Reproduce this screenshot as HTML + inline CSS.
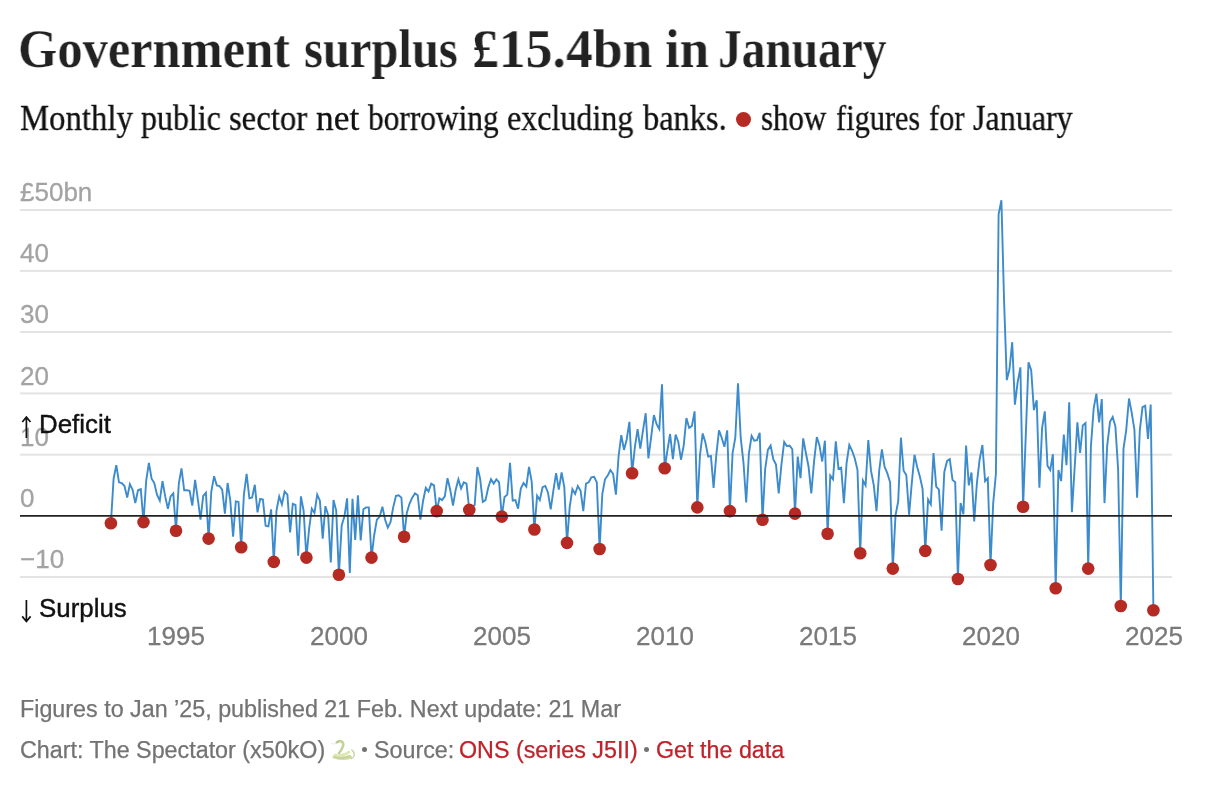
<!DOCTYPE html>
<html><head><meta charset="utf-8"><title>Government surplus</title>
<style>
html,body{margin:0;padding:0;background:#fff;}
body{width:1214px;height:792px;position:relative;overflow:hidden;font-family:"Liberation Sans",sans-serif;}
.abs{position:absolute;white-space:nowrap;}
h1{margin:0;font-size:56px;font-weight:bold;}
.tw{position:absolute;top:16.6px;font-family:"Liberation Serif",serif;font-weight:bold;font-size:54.5px;line-height:64px;color:#222;-webkit-text-stroke:0.25px #fff;white-space:nowrap;transform-origin:0 0;will-change:transform;}
.sw{position:absolute;top:98px;font-family:"Liberation Serif",serif;font-size:35px;line-height:42px;color:#111;-webkit-text-stroke:0.3px #111;white-space:nowrap;transform-origin:0 0;will-change:transform;}
svg{position:absolute;left:0;top:0;}
.yl{position:absolute;left:19.8px;font-size:26px;line-height:30px;color:#a3a3a3;-webkit-text-stroke:0.3px #a3a3a3;white-space:nowrap;will-change:transform;}
.xl{position:absolute;top:621px;width:80px;text-align:center;font-size:26px;line-height:30px;color:#7a7a7a;-webkit-text-stroke:0.3px #7a7a7a;white-space:nowrap;will-change:transform;}
.ann{position:absolute;left:39.3px;font-size:25.9px;line-height:30px;color:#111;-webkit-text-stroke:0.4px #111;white-space:nowrap;will-change:transform;}
.ft{position:absolute;left:20px;font-size:23.3px;line-height:28px;color:#737373;-webkit-text-stroke:0.25px #737373;white-space:nowrap;will-change:transform;}
.bl{position:absolute;top:746.6px;width:5.4px;height:5.4px;border-radius:50%;background:#737373;}
.ft b{font-weight:normal;color:#c0222a;-webkit-text-stroke:0.25px #c0222a;}
</style></head><body>
<h1><span class="tw" style="left:18.45px;transform:scaleX(0.9262)">Government</span><span class="tw" style="left:304.44px;transform:scaleX(0.8903)">surplus</span><span class="tw" style="left:471.79px;transform:scaleX(0.9842)">£15.4bn</span><span class="tw" style="left:664.99px;transform:scaleX(0.9665)">in</span><span class="tw" style="left:718.13px;transform:scaleX(0.8692)">January</span></h1>
<div><span class="sw" style="left:19.86px;transform:scaleX(0.9372)">Monthly</span><span class="sw" style="left:141.24px;transform:scaleX(0.9116)">public</span><span class="sw" style="left:228.60px;transform:scaleX(0.9346)">sector</span><span class="sw" style="left:315.54px;transform:scaleX(1.0108)">net</span><span class="sw" style="left:368.10px;transform:scaleX(0.8964)">borrowing</span><span class="sw" style="left:507.06px;transform:scaleX(0.9154)">excluding</span><span class="sw" style="left:642.60px;transform:scaleX(0.9250)">banks.</span><span class="sw" style="left:760.87px;transform:scaleX(0.8844)">show</span><span class="sw" style="left:836.13px;transform:scaleX(0.8663)">figures</span><span class="sw" style="left:929.33px;transform:scaleX(0.8684)">for</span><span class="sw" style="left:973.01px;transform:scaleX(0.9157)">January</span></div>
<div style="position:absolute;left:735.75px;top:111.65px;width:15.5px;height:15.5px;border-radius:50%;background:#b52b24"></div>
<div class="yl" style="top:176.9px">£50bn</div><div class="yl" style="top:238.1px">40</div><div class="yl" style="top:299.3px">30</div><div class="yl" style="top:360.5px">20</div><div class="yl" style="top:421.7px">10</div><div class="yl" style="top:482.9px">0</div><div class="yl" style="top:544.1px">−10</div>
<svg width="1214" height="792" viewBox="0 0 1214 792">
<g fill="#e4e4e4"><rect x="20" width="1152" y="209.0" height="2"/><rect x="20" width="1152" y="269.9" height="2"/><rect x="20" width="1152" y="331.0" height="2"/><rect x="20" width="1152" y="392.4" height="2"/><rect x="20" width="1152" y="453.7" height="2"/><rect x="20" width="1152" y="576.0" height="2"/></g>
<polyline fill="none" stroke="#3b8bcd" stroke-width="1.9" stroke-linejoin="miter" points="110.9,523.3 113.6,478.7 116.3,465.2 119.0,482.3 121.8,483.0 124.5,486.0 127.2,497.6 129.9,484.2 132.6,489.7 135.3,503.1 138.0,490.3 140.8,489.1 143.5,522.1 146.2,480.5 148.9,462.8 151.6,478.7 154.3,483.0 157.0,494.6 159.8,500.7 162.5,481.1 165.2,496.4 167.9,508.7 170.6,496.4 173.3,493.4 176.0,530.7 178.8,483.6 181.5,468.3 184.2,490.3 186.9,490.3 189.6,490.9 192.3,505.6 195.1,479.9 197.8,498.9 200.5,519.7 203.2,495.8 205.9,492.7 208.6,538.6 211.3,491.5 214.1,476.2 216.8,485.4 219.5,486.0 222.2,489.7 224.9,513.6 227.6,483.0 230.3,500.7 233.1,536.8 235.8,501.3 238.5,501.9 241.2,547.2 243.9,494.6 246.6,473.8 249.4,498.3 252.1,497.6 254.8,484.8 257.5,512.3 260.2,498.9 262.9,499.5 265.6,525.8 268.4,526.4 271.1,509.3 273.8,561.9 276.5,510.5 279.2,496.4 281.9,504.4 284.6,491.5 287.4,494.6 290.1,532.5 292.8,503.8 295.5,505.0 298.2,555.8 300.9,496.4 303.6,510.5 306.4,557.6 309.1,528.9 311.8,508.7 314.5,512.9 317.2,494.6 319.9,500.7 322.7,538.6 325.4,506.2 328.1,514.8 330.8,562.5 333.5,500.1 336.2,510.5 338.9,574.8 341.7,525.2 344.4,516.6 347.1,498.3 349.8,572.9 352.5,498.9 355.2,539.9 357.9,495.2 360.7,540.5 363.4,509.3 366.1,507.4 368.8,507.4 371.5,557.6 374.2,535.0 376.9,519.7 379.7,516.6 382.4,506.8 385.1,519.7 387.8,527.6 390.5,522.1 393.2,507.4 396.0,495.8 398.7,495.2 401.4,497.6 404.1,536.8 406.8,512.9 409.5,503.8 412.2,497.6 415.0,493.4 417.7,495.2 420.4,519.7 423.1,500.7 425.8,487.8 428.5,491.5 431.2,483.6 434.0,485.4 436.7,511.1 439.4,498.3 442.1,500.1 444.8,496.4 447.5,478.1 450.2,489.7 453.0,505.6 455.7,489.7 458.4,479.3 461.1,488.5 463.8,482.3 466.5,483.6 469.3,509.9 472.0,506.8 474.7,505.0 477.4,467.0 480.1,478.7 482.8,501.9 485.5,500.1 488.3,487.2 491.0,479.3 493.7,483.6 496.4,479.3 499.1,482.3 501.8,516.6 504.5,497.0 507.3,494.6 510.0,462.8 512.7,500.7 515.4,500.1 518.1,508.7 520.8,488.5 523.5,483.0 526.3,486.6 529.0,467.0 531.7,481.7 534.4,529.5 537.1,495.8 539.8,500.1 542.6,487.2 545.3,486.0 548.0,492.7 550.7,509.3 553.4,490.3 556.1,473.2 558.8,489.7 561.6,472.5 564.3,487.2 567.0,542.9 569.7,506.8 572.4,489.1 575.1,494.0 577.8,486.0 580.6,490.9 583.3,511.1 586.0,483.6 588.7,482.3 591.4,477.4 594.1,476.8 596.8,482.3 599.6,549.0 602.3,494.0 605.0,479.3 607.7,475.6 610.4,470.1 613.1,473.8 615.9,494.6 618.6,456.0 621.3,435.2 624.0,449.9 626.7,439.5 629.4,421.8 632.1,473.2 634.9,446.8 637.6,429.1 640.3,448.7 643.0,430.3 645.7,413.2 648.4,458.5 651.1,437.7 653.9,415.0 656.6,424.2 659.3,429.1 662.0,384.4 664.7,468.3 667.4,450.5 670.1,434.0 672.9,459.1 675.6,434.6 678.3,441.9 681.0,459.7 683.7,445.6 686.4,418.1 689.2,427.9 691.9,426.0 694.6,411.3 697.3,507.4 700.0,454.8 702.7,433.4 705.4,442.6 708.2,456.6 710.9,456.0 713.6,487.8 716.3,454.8 719.0,430.3 721.7,437.7 724.4,446.8 727.2,430.3 729.9,511.1 732.6,453.0 735.3,437.7 738.0,383.2 740.7,437.7 743.5,462.8 746.2,502.5 748.9,453.6 751.6,435.8 754.3,440.7 757.0,440.1 759.7,432.8 762.5,519.7 765.2,468.9 767.9,449.9 770.6,445.6 773.3,459.1 776.0,464.6 778.7,493.4 781.5,464.0 784.2,441.9 786.9,446.2 789.6,445.6 792.3,449.3 795.0,513.6 797.7,456.6 800.5,478.1 803.2,438.3 805.9,453.0 808.6,467.0 811.3,493.4 814.0,462.1 816.8,437.1 819.5,445.6 822.2,461.5 824.9,440.7 827.6,533.7 830.3,475.6 833.0,479.3 835.8,441.3 838.5,468.9 841.2,467.7 843.9,503.1 846.6,462.8 849.3,445.0 852.0,450.5 854.8,458.5 857.5,470.1 860.2,553.3 862.9,480.5 865.6,485.4 868.3,440.1 871.0,470.7 873.8,485.4 876.5,511.1 879.2,470.7 881.9,449.3 884.6,467.0 887.3,473.2 890.1,482.3 892.8,568.6 895.5,515.4 898.2,501.3 900.9,437.7 903.6,470.7 906.3,475.0 909.1,514.8 911.8,483.0 914.5,454.8 917.2,467.0 919.9,476.8 922.6,489.1 925.3,550.9 928.1,499.5 930.8,504.4 933.5,453.0 936.2,486.6 938.9,489.7 941.6,530.7 944.3,471.9 947.1,460.9 949.8,459.1 952.5,479.9 955.2,482.3 957.9,579.0 960.6,503.1 963.4,514.2 966.1,445.6 968.8,485.4 971.5,472.5 974.2,521.5 976.9,483.0 979.6,459.7 982.4,445.0 985.1,481.1 987.8,478.1 990.5,565.0 993.2,503.1 995.9,473.8 998.6,214.3 1001.4,200.2 1004.1,301.8 1006.8,380.1 1009.5,369.1 1012.2,342.2 1014.9,404.6 1017.6,382.6 1020.4,367.3 1023.1,506.8 1025.8,434.6 1028.5,362.4 1031.2,370.3 1033.9,410.1 1036.7,400.3 1039.4,487.8 1042.1,427.9 1044.8,411.3 1047.5,465.8 1050.2,470.1 1052.9,454.2 1055.7,588.2 1058.4,470.1 1061.1,481.1 1063.8,434.6 1066.5,465.2 1069.2,402.2 1071.9,512.3 1074.7,467.0 1077.4,422.4 1080.1,453.0 1082.8,425.4 1085.5,423.0 1088.2,568.6 1090.9,446.8 1093.7,408.3 1096.4,393.6 1099.1,422.4 1101.8,399.1 1104.5,503.1 1107.2,445.6 1110.0,421.8 1112.7,416.9 1115.4,426.6 1118.1,468.9 1120.8,606.0 1123.5,448.7 1126.2,430.3 1129.0,398.5 1131.7,412.6 1134.4,429.7 1137.1,497.6 1139.8,430.3 1142.5,407.1 1145.2,405.8 1148.0,438.9 1150.7,404.6 1153.4,610.2"/>
<g fill="#b52b24"><circle cx="110.9" cy="523.3" r="6.3"/><circle cx="143.5" cy="522.1" r="6.3"/><circle cx="176.0" cy="530.7" r="6.3"/><circle cx="208.6" cy="538.6" r="6.3"/><circle cx="241.2" cy="547.2" r="6.3"/><circle cx="273.8" cy="561.9" r="6.3"/><circle cx="306.4" cy="557.6" r="6.3"/><circle cx="338.9" cy="574.8" r="6.3"/><circle cx="371.5" cy="557.6" r="6.3"/><circle cx="404.1" cy="536.8" r="6.3"/><circle cx="436.7" cy="511.1" r="6.3"/><circle cx="469.3" cy="509.9" r="6.3"/><circle cx="501.8" cy="516.6" r="6.3"/><circle cx="534.4" cy="529.5" r="6.3"/><circle cx="567.0" cy="542.9" r="6.3"/><circle cx="599.6" cy="549.0" r="6.3"/><circle cx="632.1" cy="473.2" r="6.3"/><circle cx="664.7" cy="468.3" r="6.3"/><circle cx="697.3" cy="507.4" r="6.3"/><circle cx="729.9" cy="511.1" r="6.3"/><circle cx="762.5" cy="519.7" r="6.3"/><circle cx="795.0" cy="513.6" r="6.3"/><circle cx="827.6" cy="533.7" r="6.3"/><circle cx="860.2" cy="553.3" r="6.3"/><circle cx="892.8" cy="568.6" r="6.3"/><circle cx="925.3" cy="550.9" r="6.3"/><circle cx="957.9" cy="579.0" r="6.3"/><circle cx="990.5" cy="565.0" r="6.3"/><circle cx="1023.1" cy="506.8" r="6.3"/><circle cx="1055.7" cy="588.2" r="6.3"/><circle cx="1088.2" cy="568.6" r="6.3"/><circle cx="1120.8" cy="606.0" r="6.3"/><circle cx="1153.4" cy="610.2" r="6.3"/></g>
<line x1="20" x2="1172" y1="515.9" y2="515.9" stroke="#222" stroke-width="1.9"/>
<g fill="none" stroke="#111" stroke-width="1.7"><path d="M26.4 438V417M22.3 422L26.4 417L30.5 422"/><path d="M26.4 600V621.5M22.2 616.4L26.4 621.5L30.6 616.4"/></g>
</svg>
<div class="ann" style="top:409px">Deficit</div>
<div class="ann" style="top:593px">Surplus</div>
<div class="xl" style="left:136.2px">1995</div><div class="xl" style="left:299.1px">2000</div><div class="xl" style="left:462.0px">2005</div><div class="xl" style="left:624.9px">2010</div><div class="xl" style="left:787.8px">2015</div><div class="xl" style="left:950.7px">2020</div><div class="xl" style="left:1113.6px">2025</div>
<div class="ft" style="top:694.7px">Figures to Jan ’25, published 21 Feb. Next update: 21 Mar</div>
<div class="ft" style="top:736.2px">Chart: The Spectator (x50kO)</div>
<svg style="left:322px;top:730px" width="60" height="40" viewBox="0 0 1188 792"><g opacity="0.85" fill="none" stroke-linecap="round"><path d="M588 392 Q640 430 640 490 Q635 545 585 570" stroke="#b3c587" stroke-width="22"/><path d="M290 245 Q330 210 385 225 Q430 250 420 310 Q400 380 335 460" stroke="#b9cb84" stroke-width="50"/><path d="M222 548 Q380 620 590 560 Q600 520 540 500 Q380 560 235 500 Q210 520 222 548Z" fill="#c3d48e" stroke="#c3d48e" stroke-width="14" stroke-linejoin="round"/><path d="M262 492 Q400 535 535 438" stroke="#d6e5a6" stroke-width="50"/><path d="M248 535 Q400 590 565 505" stroke="#a4b975" stroke-width="9"/><path d="M188 268 Q220 290 262 272" stroke="#e7bfc3" stroke-width="11"/><circle cx="312" cy="236" r="11" fill="#8c8a62" stroke="none"/></g></svg>
<div class="bl" style="left:361.9px"></div>
<div class="ft" style="top:736.2px;left:373.9px">Source:</div>
<div class="ft" style="top:736.2px;left:459px"><b>ONS (series J5II)</b></div>
<div class="bl" style="left:643.9px"></div>
<div class="ft" style="top:736.2px;left:655.6px"><b>Get the data</b></div>
</body></html>
